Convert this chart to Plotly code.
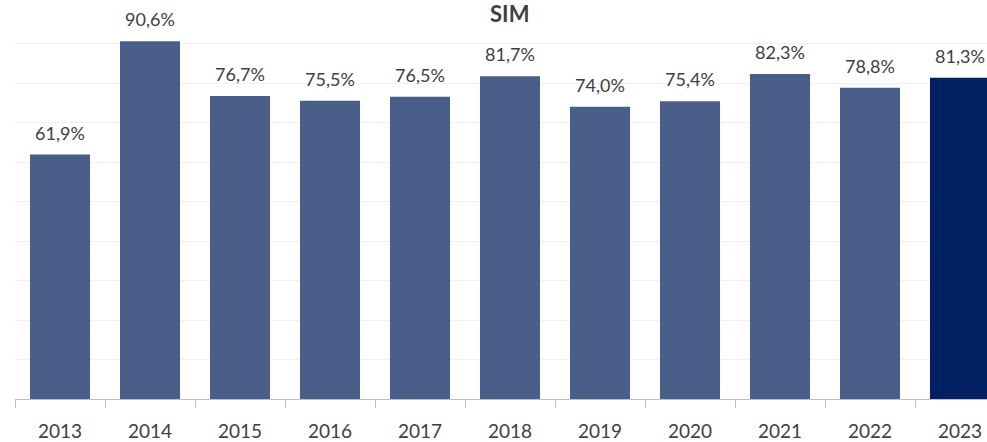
import plotly.graph_objects as go

years = ["2013", "2014", "2015", "2016", "2017", "2018", "2019", "2020", "2021", "2022", "2023"]
values = [61.9, 90.6, 76.7, 75.5, 76.5, 81.7, 74.0, 75.4, 82.3, 78.8, 81.3]
labels = ["61,9%", "90,6%", "76,7%", "75,5%", "76,5%", "81,7%", "74,0%", "75,4%", "82,3%", "78,8%", "81,3%"]
title_text = "SIM"

colors = ["#4a5e8a"] * (len(years) - 1) + ["#002060"]

fig = go.Figure()
fig.add_trace(go.Bar(
    x=years, y=values, width=0.667,
    marker=dict(color=colors, line=dict(width=0)),
    hoverinfo="skip",
))

for i, (v, lab) in enumerate(zip(values, labels)):
    fig.add_annotation(x=i, y=v, text=lab, showarrow=False, yanchor="bottom",
                       yshift=9, font=dict(family="Lato", size=18, color="#404040"))

fig.update_layout(
    width=987, height=442,
    margin=dict(l=15, r=0, t=4, b=38),
    paper_bgcolor="white", plot_bgcolor="white",
    showlegend=False,
    bargap=0.333,
    title=dict(text="<b>" + title_text + "</b>", x=0.509, xref="paper", xanchor="center",
               y=1 - 14 / 442, yref="container", yanchor="middle",
               font=dict(family="Lato", size=22, color="#404040")),
    xaxis=dict(type="category", range=[-0.5, 10.3], showgrid=False,
               showline=True, linecolor="#bfbfbf", linewidth=1,
               ticks="outside", ticklen=8, tickcolor="#bfbfbf", tickson="boundaries",
               ticklabelstandoff=15,
               tickfont=dict(family="Lato", size=19, color="#404040")),
    yaxis=dict(range=[0, 100], dtick=10, showgrid=True, gridcolor="#f0f0f0", gridwidth=1,
               showticklabels=False, zeroline=False, showline=False),
)

fig.write_html("out.html", config={"displayModeBar": False},
               post_script="document.body.style.margin='0';document.body.style.overflow='hidden';")
